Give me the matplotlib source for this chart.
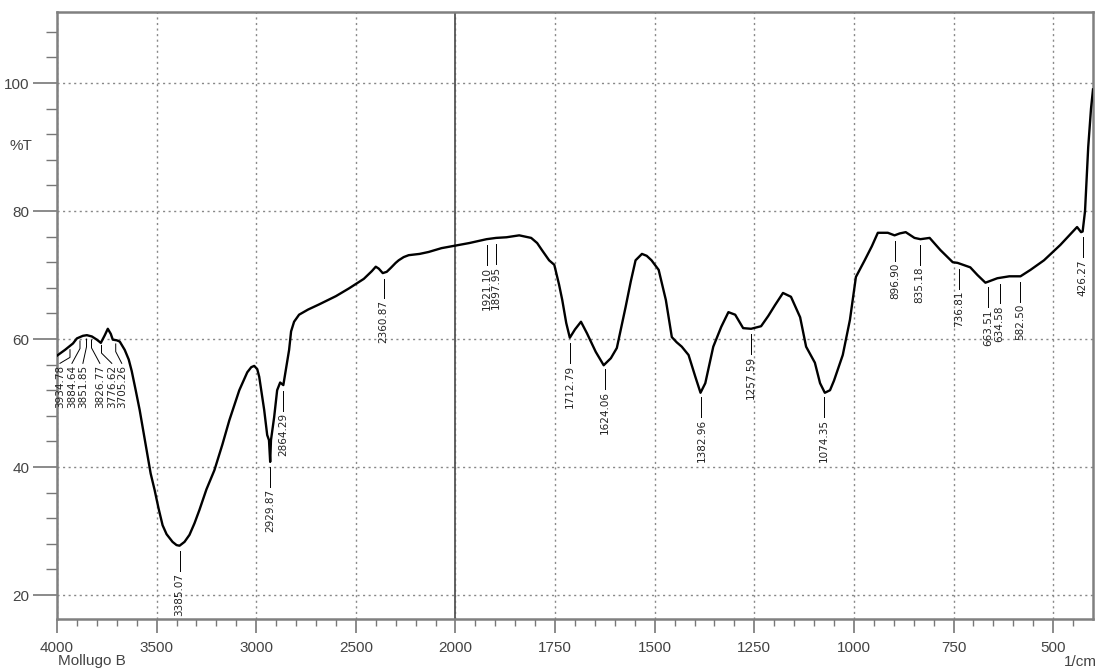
import numpy as np
import matplotlib.pyplot as plt
from matplotlib.ticker import FixedLocator, MultipleLocator

# spectrum (wavenumber 1/cm, %T)
wavenumber = [4000, 3960, 3920, 3900, 3870, 3850, 3825, 3800, 3780, 3760,
              3745, 3730, 3720, 3700, 3685, 3660, 3640, 3625, 3605, 3585,
              3565, 3550, 3530, 3510, 3490, 3470, 3450, 3420, 3400, 3385,
              3360, 3335, 3310, 3285, 3250, 3210, 3170, 3135, 3085, 3045,
              3025, 3010, 2995, 2985, 2970, 2960, 2945, 2936, 2930, 2926,
              2910, 2895, 2880, 2872, 2864, 2850, 2835, 2825, 2810, 2785,
              2740, 2685, 2600, 2535, 2460, 2420, 2400, 2385, 2365, 2345,
              2325, 2300, 2285, 2260, 2235, 2180, 2135, 2070, 2000, 1965,
              1922, 1898, 1872, 1840, 1810, 1795, 1783, 1765, 1752, 1740,
              1732, 1722, 1713, 1700, 1685, 1670, 1648, 1628, 1610, 1595,
              1573, 1560, 1548, 1532, 1520, 1508, 1490, 1472, 1457, 1445,
              1432, 1415, 1398, 1385, 1373, 1353, 1333, 1315, 1298, 1278,
              1258, 1245, 1233, 1215, 1198, 1178, 1158, 1135, 1120, 1098,
              1085, 1073, 1060, 1050, 1028, 1010, 995, 973, 955, 940,
              915, 898, 885, 870, 848, 833, 810, 783, 752, 740,
              708, 690, 670, 640, 610, 582, 557, 523, 482, 440,
              430, 426, 420, 412, 405, 400]
transmittance = [57.4, 58.3, 59.3, 60.1, 60.5, 60.6, 60.4, 59.9, 59.4, 60.6,
                 61.6, 60.8, 59.9, 59.8, 59.6, 58.3, 56.8, 55.0, 52.0, 48.9,
                 45.3, 42.5, 39.0, 36.4, 33.5, 30.9, 29.5, 28.3, 27.8, 27.7,
                 28.3, 29.4, 31.2, 33.3, 36.5, 39.5, 43.5, 47.3, 52.0, 54.8,
                 55.6, 55.8, 55.3, 54.1, 51.0, 48.9, 45.0, 44.2, 40.8, 44.2,
                 47.8, 52.0, 53.2, 53.0, 52.8, 55.5, 58.3, 61.2, 62.7, 63.8,
                 64.6, 65.4, 66.7, 67.9, 69.4, 70.6, 71.3, 71.0, 70.3, 70.5,
                 71.1, 71.9, 72.3, 72.8, 73.1, 73.3, 73.6, 74.2, 74.6, 75.0,
                 75.6, 75.8, 75.9, 76.2, 75.8, 75.0, 73.9, 72.3, 71.6, 68.5,
                 66.1, 62.5, 60.2, 61.5, 62.7, 60.9, 58.0, 55.9, 57.0, 58.6,
                 65.0, 69.0, 72.3, 73.3, 73.0, 72.3, 70.8, 66.1, 60.3, 59.5,
                 58.8, 57.5, 54.1, 51.6, 53.1, 58.8, 61.9, 64.2, 63.8, 61.7,
                 61.6, 61.8, 62.0, 63.6, 65.3, 67.2, 66.6, 63.4, 58.8, 56.3,
                 53.1, 51.6, 52.0, 53.5, 57.5, 63.0, 69.7, 72.3, 74.5, 76.6,
                 76.6, 76.2, 76.5, 76.7, 75.8, 75.6, 75.8, 73.9, 72.0, 71.9,
                 71.2, 70.0, 68.8, 69.5, 69.8, 69.8, 70.8, 72.3, 74.7, 77.5,
                 76.7, 76.8, 80.0, 90.0, 96.0, 99.0]

peak_wn = [3385.07, 2929.87, 2864.29, 2360.87, 1921.10, 1897.95, 1712.79,
           1624.06, 1382.96, 1257.59, 1074.35, 896.90, 835.18, 736.81,
           663.51, 634.58, 582.50, 426.27]
peak_labels = ["3385.07", "2929.87", "2864.29", "2360.87", "1921.10", "1897.95",
               "1712.79", "1624.06", "1382.96", "1257.59", "1074.35", "896.90",
               "835.18", "736.81", "663.51", "634.58", "582.50", "426.27"]

# crowded peaks at the left, text pushed aside with leader lines
cluster_wn = [3934.78, 3884.64, 3851.85, 3826.77, 3776.62, 3705.26]
cluster_labels = ["3934.78", "3884.64", "3851.85", "3826.77", "3776.62", "3705.26"]
cluster_text_wn = [3985, 3925, 3870, 3785, 3725, 3675]

xmajor = [4000, 3500, 3000, 2500, 2000, 1750, 1500, 1250, 1000, 750, 500]
xminor = list(range(3900, 2000, -100)) + list(range(1950, 400, -50))


def fwd(x):
    x = np.asarray(x, dtype=float)
    return np.where(x > 2000, 2000 + (x - 2000) / 2.0, x)


def inv(u):
    u = np.asarray(u, dtype=float)
    return np.where(u > 2000, 2000 + (u - 2000) * 2.0, u)


plt.rcParams['font.family'] = ['Liberation Sans', 'DejaVu Sans']

fig = plt.figure(figsize=(10.99, 6.70), dpi=100)
ax = fig.add_axes([57 / 1099, 1 - 619 / 670, (1093 - 57) / 1099, (619 - 12) / 670])
ax.set_xscale('function', functions=(fwd, inv))
ax.set_xlim(4000, 400)
ax.set_ylim(16.25, 111.1)

ax.xaxis.set_major_locator(FixedLocator(xmajor))
ax.xaxis.set_minor_locator(FixedLocator(xminor))
ax.yaxis.set_major_locator(FixedLocator([20, 40, 60, 80, 100]))
ax.yaxis.set_minor_locator(MultipleLocator(4))
ax.xaxis.set_major_formatter(plt.FuncFormatter(lambda v, p: "%d" % v))

ax.tick_params(axis='x', which='major', length=10, width=1.2, color='#777777',
               labelsize=11, labelcolor='#444444', pad=6)
ax.tick_params(axis='x', which='minor', length=5, width=1, color='#777777')
ax.tick_params(axis='y', which='major', length=17, width=1.2, color='#777777',
               labelsize=11, labelcolor='#444444', pad=3)
ax.tick_params(axis='y', which='minor', length=8, width=1, color='#777777')
for s in ax.spines.values():
    s.set_color('#808080')
    s.set_linewidth(1.8)

ax.grid(True, which='major', color='#888888', linestyle=(0, (1.5, 2.5)), linewidth=1)
ax.axvline(2000, color='#555555', linewidth=1.3)

ax.plot(wavenumber, transmittance, color='black', linewidth=1.7, zorder=3)

wn_rev = np.array(wavenumber[::-1], dtype=float)
t_rev = np.array(transmittance[::-1], dtype=float)

for w, s in zip(peak_wn, peak_labels):
    t = np.interp(w, wn_rev, t_rev)
    ax.plot([w, w], [t - 0.9, t - 4.0], color='black', linewidth=0.7)
    ax.text(w, t - 4.3, s, rotation=90, ha='center', va='top',
            fontsize=7.5, color='#222222', family='DejaVu Sans')

for w, s, tw in zip(cluster_wn, cluster_labels, cluster_text_wn):
    t = np.interp(w, wn_rev, t_rev)
    ax.plot([w, w, tw], [t - 0.6, t - 1.8, 56.2], color='black', linewidth=0.7)
    ax.text(tw, 56.0, s, rotation=90, ha='center', va='top',
            fontsize=7.5, color='#222222', family='DejaVu Sans')

fig.text(10 / 1099, 1 - 146 / 670, "%T", fontsize=11, color='#444444',
         ha='left', va='center')
fig.text(58 / 1099, 1 - 661 / 670, "Mollugo B", fontsize=11, color='#444444',
         ha='left', va='center')
fig.text(1097 / 1099, 1 - 662 / 670, "1/cm", fontsize=11, color='#444444',
         ha='right', va='center')

fig.savefig('out.png', dpi=100)
